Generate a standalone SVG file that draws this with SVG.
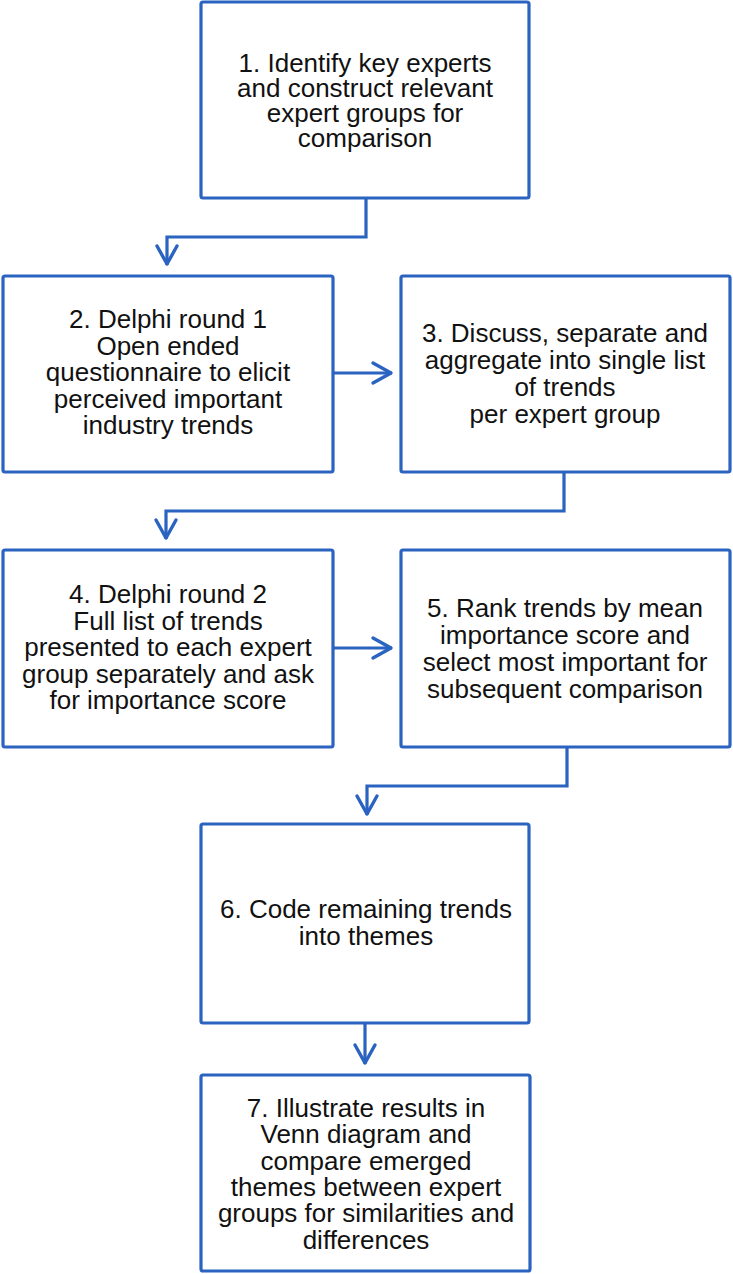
<svg xmlns="http://www.w3.org/2000/svg" width="733" height="1274" viewBox="0 0 733 1274">
  <style>
    .box { fill: #ffffff; stroke: #2a63c0; stroke-width: 3.2; }
    .conn { fill: none; stroke: #2a63c0; stroke-width: 3.2; stroke-linejoin: miter; }
    .lbl { font-family: "Liberation Sans", Arial, sans-serif; font-size: 26px; fill: #111111; text-anchor: middle; }
  </style>
  <defs>
    <marker id="chev" markerUnits="userSpaceOnUse" markerWidth="26" markerHeight="26" refX="21" refY="12" orient="auto" overflow="visible">
      <path d="M2,2 L20,12 L2,22" fill="none" stroke="#2a63c0" stroke-width="3.4" stroke-linecap="round" stroke-linejoin="round"/>
    </marker>
  </defs>
  <rect width="733" height="1274" fill="#ffffff"/>

  <g id="connectors">
    <path class="conn" d="M366,198 V237 H167 V265" marker-end="url(#chev)"/>
    <path class="conn" d="M333,373 H392" marker-end="url(#chev)"/>
    <path class="conn" d="M564,472 V511 H166 V539" marker-end="url(#chev)"/>
    <path class="conn" d="M333,648 H392" marker-end="url(#chev)"/>
    <path class="conn" d="M567,746 V786 H367 V815" marker-end="url(#chev)"/>
    <path class="conn" d="M365,1023 V1064" marker-end="url(#chev)"/>
  </g>

  <g id="node1">
    <rect class="box" x="201" y="2" width="328" height="196" rx="2"/>
    <text class="lbl" x="365" y="72">1. Identify key experts</text>
    <text class="lbl" x="365" y="97">and construct relevant</text>
    <text class="lbl" x="365" y="122">expert groups for</text>
    <text class="lbl" x="365" y="147">comparison</text>
  </g>

  <g id="node2">
    <rect class="box" x="3" y="276" width="330" height="196" rx="2"/>
    <text class="lbl" x="168" y="328">2. Delphi round 1</text>
    <text class="lbl" x="168" y="354.5">Open ended</text>
    <text class="lbl" x="168" y="381">questionnaire to elicit</text>
    <text class="lbl" x="168" y="407.5">perceived important</text>
    <text class="lbl" x="168" y="434">industry trends</text>
  </g>

  <g id="node3">
    <rect class="box" x="401" y="276" width="329" height="196" rx="2"/>
    <text class="lbl" x="565" y="342">3. Discuss, separate and</text>
    <text class="lbl" x="565" y="369">aggregate into single list</text>
    <text class="lbl" x="565" y="396">of trends</text>
    <text class="lbl" x="565" y="423">per expert group</text>
  </g>

  <g id="node4">
    <rect class="box" x="3" y="550" width="330" height="197" rx="2"/>
    <text class="lbl" x="168" y="603">4. Delphi round 2</text>
    <text class="lbl" x="168" y="629.5">Full list of trends</text>
    <text class="lbl" x="168" y="656">presented to each expert</text>
    <text class="lbl" x="168" y="682.5">group separately and ask</text>
    <text class="lbl" x="168" y="709">for importance score</text>
  </g>

  <g id="node5">
    <rect class="box" x="401" y="550" width="329" height="197" rx="2"/>
    <text class="lbl" x="565" y="617">5. Rank trends by mean</text>
    <text class="lbl" x="565" y="644">importance score and</text>
    <text class="lbl" x="565" y="671">select most important for</text>
    <text class="lbl" x="565" y="698">subsequent comparison</text>
  </g>

  <g id="node6">
    <rect class="box" x="201" y="824" width="328" height="199" rx="2"/>
    <text class="lbl" x="366" y="918">6. Code remaining trends</text>
    <text class="lbl" x="366" y="945">into themes</text>
  </g>

  <g id="node7">
    <rect class="box" x="201" y="1075" width="329" height="196" rx="2"/>
    <text class="lbl" x="366" y="1117">7. Illustrate results in</text>
    <text class="lbl" x="366" y="1143.3">Venn diagram and</text>
    <text class="lbl" x="366" y="1169.6">compare emerged</text>
    <text class="lbl" x="366" y="1195.9">themes between expert</text>
    <text class="lbl" x="366" y="1222.2">groups for similarities and</text>
    <text class="lbl" x="366" y="1248.5">differences</text>
  </g>
</svg>
